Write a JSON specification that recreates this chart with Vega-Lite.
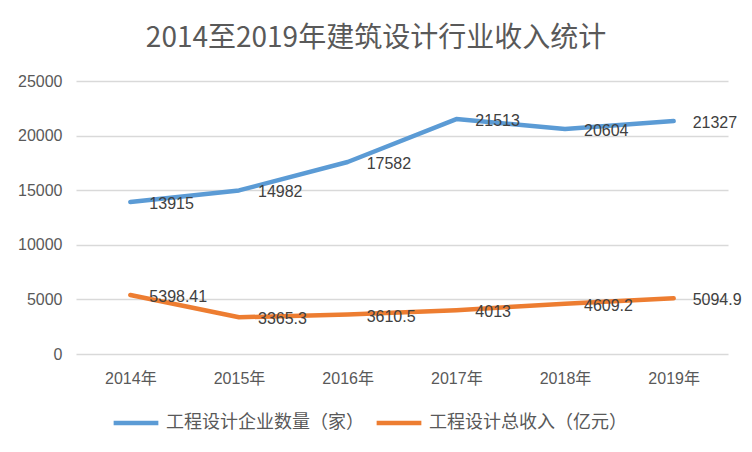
{
  "$schema": "https://vega.github.io/schema/vega-lite/v6.json",
  "autosize": {"type": "none"},
  "width": 652,
  "height": 273,
  "padding": {"left": 76, "top": 81, "right": 24, "bottom": 98},
  "background": "white",
  "title": {
    "text": "2014至2019年建筑设计行业收入统计",
    "font": "Noto Sans CJK SC",
    "fontSize": 28,
    "fontWeight": "normal",
    "color": "#595959",
    "anchor": "middle",
    "frame": "group",
    "dx": -26,
    "offset": 20
  },
  "data": {
    "values": [
      {"year": "2014年", "series": "工程设计企业数量（家）", "value": 13915},
      {"year": "2015年", "series": "工程设计企业数量（家）", "value": 14982},
      {"year": "2016年", "series": "工程设计企业数量（家）", "value": 17582},
      {"year": "2017年", "series": "工程设计企业数量（家）", "value": 21513},
      {"year": "2018年", "series": "工程设计企业数量（家）", "value": 20604},
      {"year": "2019年", "series": "工程设计企业数量（家）", "value": 21327},
      {"year": "2014年", "series": "工程设计总收入（亿元）", "value": 5398.41},
      {"year": "2015年", "series": "工程设计总收入（亿元）", "value": 3365.3},
      {"year": "2016年", "series": "工程设计总收入（亿元）", "value": 3610.5},
      {"year": "2017年", "series": "工程设计总收入（亿元）", "value": 4013},
      {"year": "2018年", "series": "工程设计总收入（亿元）", "value": 4609.2},
      {"year": "2019年", "series": "工程设计总收入（亿元）", "value": 5094.9}
    ]
  },
  "encoding": {
    "x": {
      "field": "year",
      "type": "ordinal",
      "scale": {"type": "point", "padding": 0.5},
      "axis": {
        "title": null,
        "labelAngle": 0,
        "domain": false,
        "ticks": false,
        "grid": false,
        "labelPadding": 16,
        "labelFont": "Liberation Sans, Noto Sans CJK SC",
        "labelFontSize": 16,
        "labelColor": "#595959"
      }
    },
    "y": {
      "field": "value",
      "type": "quantitative",
      "scale": {"domain": [0, 25000]},
      "axis": {
        "title": null,
        "values": [0, 5000, 10000, 15000, 20000, 25000],
        "format": "d",
        "domain": false,
        "ticks": false,
        "labelPadding": 14,
        "labelFont": "Liberation Sans",
        "labelFontSize": 16,
        "labelColor": "#595959",
        "gridColor": "#d9d9d9",
        "gridWidth": 1.5
      }
    },
    "color": {
      "field": "series",
      "type": "nominal",
      "scale": {
        "domain": ["工程设计企业数量（家）", "工程设计总收入（亿元）"],
        "range": ["#5B9BD5", "#ED7D31"]
      },
      "legend": {
        "title": null,
        "orient": "none",
        "legendX": 35,
        "legendY": 317,
        "direction": "horizontal",
        "symbolType": "stroke",
        "symbolSize": 2000,
        "symbolStrokeWidth": 4.5,
        "labelFont": "Noto Sans CJK SC",
        "labelFontSize": 18,
        "labelColor": "#595959",
        "labelOffset": 5,
        "columnPadding": 3,
        "labelLimit": 400
      }
    }
  },
  "layer": [
    {
      "mark": {"type": "line", "strokeWidth": 4.5, "strokeCap": "round", "strokeJoin": "round"}
    },
    {
      "mark": {
        "type": "text",
        "align": "left",
        "baseline": "middle",
        "dx": 19,
        "dy": 2,
        "font": "Liberation Sans",
        "fontSize": 16,
        "color": "#404040"
      },
      "encoding": {
        "text": {"field": "value", "type": "nominal"},
        "color": {"value": "#404040"}
      }
    }
  ],
  "config": {"view": {"stroke": null}}
}
